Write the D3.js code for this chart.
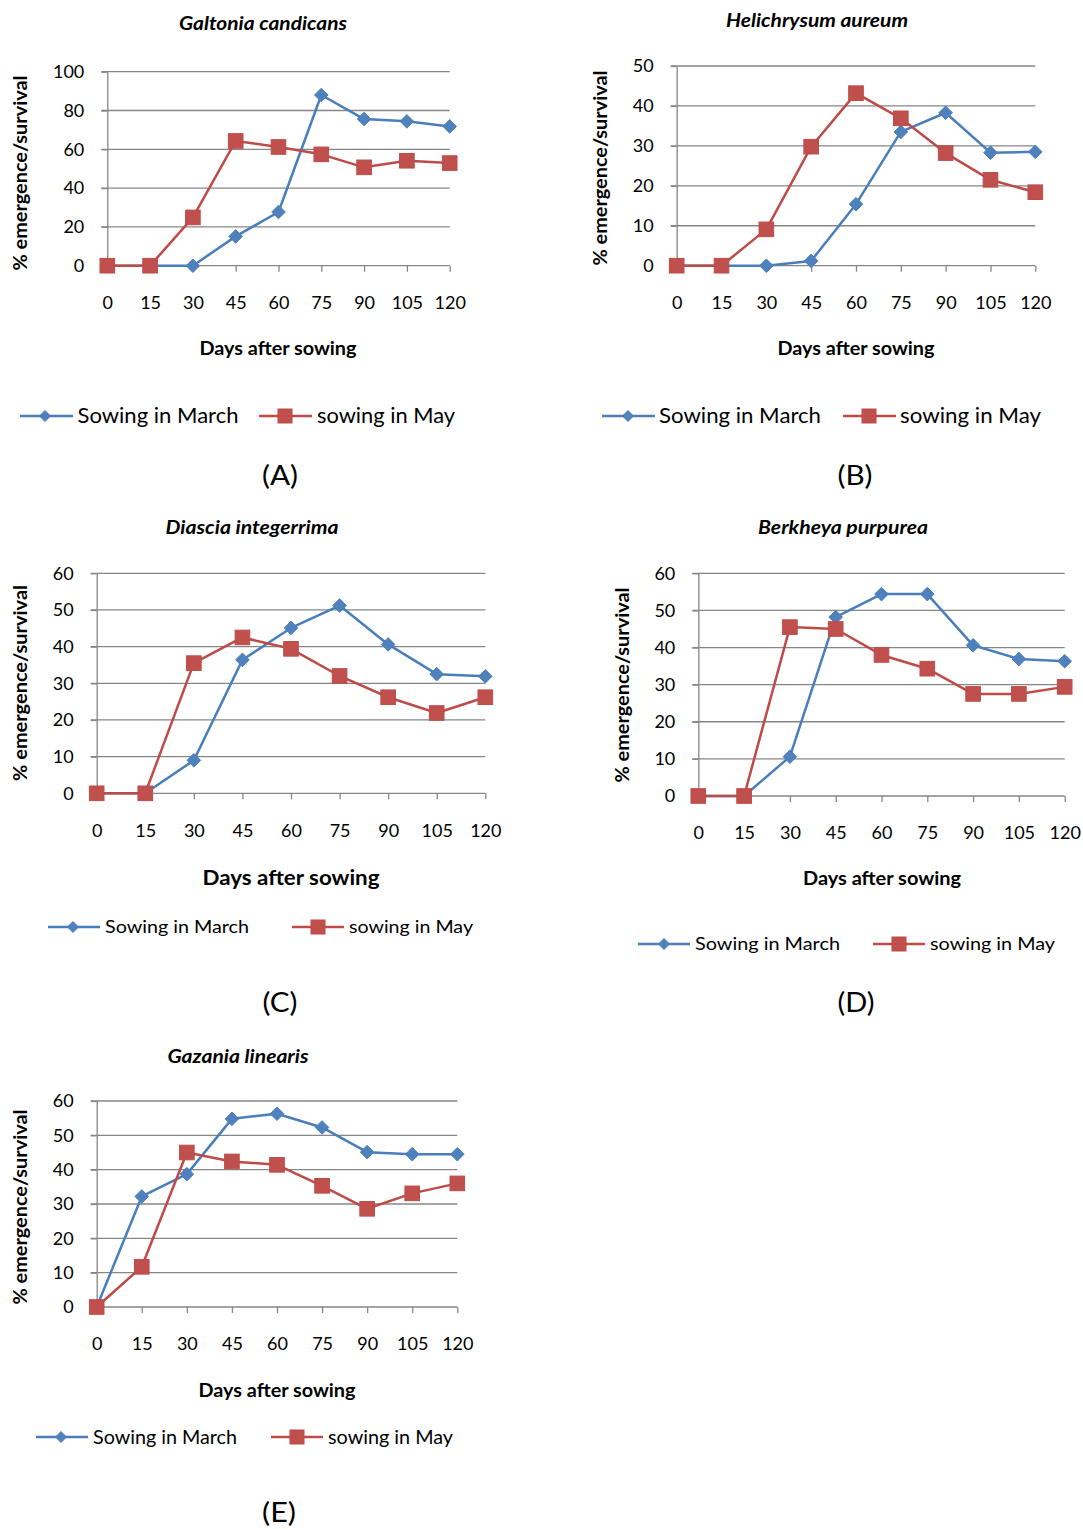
<!DOCTYPE html>
<html><head><meta charset="utf-8">
<script src="https://cdn.jsdelivr.net/npm/d3@7"></script>
<style>body{margin:0;background:#fff}svg{display:block}text{font-family:Lato,"Open Sans",sans-serif;fill:#000}</style>
</head><body>
<svg id="c" width="1083" height="1529"></svg>
<script>
const days = [0,15,30,45,60,75,90,105,120];
const seriesNames = ["Sowing in March","sowing in May"];
const panelTitles = ["Galtonia candicans","Helichrysum aureum","Diascia integerrima","Berkheya purpurea","Gazania linearis"];
const panelLabels = ["(A)","(B)","(C)","(D)","(E)"];
const galtoniaMarch = [0,0,0,15.1,27.7,88,75.6,74.4,71.8];
const galtoniaMay   = [0,0,24.9,64.3,61.2,57.4,50.7,54.1,52.9];
const helichrysumMarch = [0,0,0,1.2,15.4,33.5,38.3,28.3,28.5];
const helichrysumMay   = [0,0,9.1,29.8,43.2,36.9,28.2,21.5,18.4];
const diasciaMarch = [0,0,9.0,36.4,45.1,51.2,40.6,32.5,31.9];
const diasciaMay   = [0,0,35.5,42.5,39.4,32.0,26.2,21.9,26.2];
const berkheyaMarch = [0,0,10.6,48.2,54.4,54.4,40.6,36.9,36.3];
const berkheyaMay   = [0,0,45.5,45.0,38.0,34.3,27.5,27.5,29.4];
const gazaniaMarch = [0,32.2,38.7,54.8,56.3,52.3,45.1,44.5,44.5];
const gazaniaMay   = [0,11.7,45.0,42.4,41.4,35.3,28.6,33.1,36.0];
const ticks100 = [0,20,40,60,80,100];
const ticks50 = [0,10,20,30,40,50];
const ticks60 = [0,10,20,30,40,50,60];

const yAxisTitle = "% emergence/survival";
const xAxisTitle = "Days after sowing";

const BLUE = "#4a7ebb", BLUEM = "#4f81bd", RED = "#be4b48", REDM = "#c0504d", GRID = "#868686";

// layout per panel (positions and text widths only)
const layouts = [
  {x0:107.3,x1:449.7,yt:71.7,yb:265.7,titleX:263,titleY:23,titleLen:168,ytX:20,ytY:173,ytLen:195,xtX:278,xtY:348,xtLen:157,xtSize:18,
   legY:416,legSize:21,legLen:[161,138],l1:[20,73,45,77.5],l2:[259,312,285,317],labX:280,labY:476,labLen:36},
  {x0:676.7,x1:1035.3,yt:66,yb:265.7,titleX:817,titleY:20,titleLen:182,ytX:600,ytY:168,ytLen:195,xtX:856,xtY:348,xtLen:157,xtSize:18,
   legY:416,legSize:21,legLen:[162,141],l1:[602,655,628,659],l2:[843,896,869,900],labX:855,labY:476,labLen:35},
  {x0:96.7,x1:485.3,yt:573.3,yb:793.3,titleX:252,titleY:527,titleLen:173,ytX:20,ytY:683,ytLen:196,xtX:291,xtY:878,xtLen:177,xtSize:20,
   legY:927,legSize:18,legLen:[144,124],l1:[48,100,73,105],l2:[292,344,318,349],labX:280,labY:1003,labLen:35},
  {x0:698.3,x1:1064.7,yt:573.3,yb:796,titleX:843,titleY:527,titleLen:170,ytX:622,ytY:685,ytLen:195,xtX:882,xtY:878,xtLen:158,xtSize:18,
   legY:944,legSize:18,legLen:[145,125],l1:[638,690,664,695],l2:[873,925,899,930],labX:856,labY:1003,labLen:37},
  {x0:96.7,x1:457.3,yt:1101,yb:1307,titleX:238,titleY:1056,titleLen:141,ytX:20,ytY:1207,ytLen:195,xtX:277,xtY:1390,xtLen:157,xtSize:18,
   legY:1437,legSize:19,legLen:[144,125],l1:[36,88,61,93],l2:[271,323,297,328],labX:279,labY:1513,labLen:34}
];
const panelData = [
  [galtoniaMarch, galtoniaMay, ticks100],
  [helichrysumMarch, helichrysumMay, ticks50],
  [diasciaMarch, diasciaMay, ticks60],
  [berkheyaMarch, berkheyaMay, ticks60],
  [gazaniaMarch, gazaniaMay, ticks60]
];

const svg = d3.select("#c");

function drawMarker(g, kind, x, y, s) {
  if (kind === 0) {
    g.append("path").attr("d", `M${x},${y-s}L${x+s},${y}L${x},${y+s}L${x-s},${y}Z`)
      .attr("fill", BLUEM).attr("stroke", BLUE).attr("stroke-width", 1);
  } else {
    g.append("rect").attr("x", x-s).attr("y", y-s).attr("width", 2*s).attr("height", 2*s)
      .attr("fill", REDM).attr("stroke", RED).attr("stroke-width", 1);
  }
}
function fit(t, len) { if (len) t.attr("textLength", len).attr("lengthAdjust", "spacingAndGlyphs"); return t; }

panelData.forEach((pd, i) => {
  const L = layouts[i];
  const [march, may, yTicks] = pd;
  const g = svg.append("g");
  const x = d3.scalePoint().domain(days).range([L.x0, L.x1]);
  const y = d3.scaleLinear().domain([0, d3.max(yTicks)]).range([L.yb, L.yt]);

  // gridlines
  g.append("g").selectAll("line").data(yTicks.filter(t => t > 0)).join("line")
    .attr("x1", L.x0 - 6).attr("x2", L.x1).attr("y1", d => y(d)).attr("y2", d => y(d))
    .attr("stroke", GRID).attr("stroke-width", 1.3);

  // y axis
  const ya = g.append("g").attr("transform", `translate(${L.x0},0)`)
    .call(d3.axisLeft(y).tickValues(yTicks).tickSize(6).tickSizeOuter(0).tickPadding(17));
  ya.select(".domain").attr("stroke", GRID).attr("stroke-width", 1.3);
  ya.selectAll(".tick line").attr("stroke", GRID).attr("stroke-width", 1.3);
  ya.selectAll(".tick text").attr("font-size", 18).attr("font-family", "Lato").attr("fill", "#000");

  // x axis
  const xa = g.append("g").attr("transform", `translate(0,${L.yb})`)
    .call(d3.axisBottom(x).tickSize(6).tickSizeOuter(0));
  xa.select(".domain").attr("stroke", GRID).attr("stroke-width", 1.3).attr("d", `M${L.x0},0H${L.x1}`);
  xa.selectAll(".tick line").attr("stroke", GRID).attr("stroke-width", 1.3);
  xa.selectAll(".tick text").attr("font-size", 18).attr("font-family", "Lato").attr("fill", "#000")
    .attr("y", 37).attr("dy", "0.35em");

  // lines
  const line = d3.line().x((d, j) => x(days[j])).y(d => y(d));
  [march, may].forEach((vals, k) => {
    g.append("path").datum(vals).attr("d", line).attr("fill", "none")
      .attr("stroke", k === 0 ? BLUE : RED).attr("stroke-width", 2.5).attr("stroke-linejoin", "round");
    vals.forEach((v, j) => drawMarker(g, k, x(days[j]), y(v), k === 0 ? 6.8 : 7.3));
  });

  // title
  fit(g.append("text").attr("x", L.titleX).attr("y", L.titleY).attr("dy", "0.35em").attr("text-anchor", "middle")
    .attr("font-size", 19).attr("font-weight", "bold").attr("font-style", "italic").text(panelTitles[i]), L.titleLen);

  // y axis title
  fit(g.append("text").attr("transform", `translate(${L.ytX},${L.ytY}) rotate(-90)`).attr("dy", "0.35em")
    .attr("text-anchor", "middle").attr("font-size", 19).attr("font-weight", "bold").text(yAxisTitle), L.ytLen);

  // x axis title
  fit(g.append("text").attr("x", L.xtX).attr("y", L.xtY).attr("dy", "0.35em").attr("text-anchor", "middle")
    .attr("font-size", L.xtSize + 1).attr("font-weight", "bold").text(xAxisTitle), L.xtLen);

  // legend
  [L.l1, L.l2].forEach((p, k) => {
    g.append("line").attr("x1", p[0]).attr("x2", p[1]).attr("y1", L.legY).attr("y2", L.legY)
      .attr("stroke", k === 0 ? BLUE : RED).attr("stroke-width", 2.5);
    drawMarker(g, k, p[2], L.legY, k === 0 ? 5.5 : 7);
    fit(g.append("text").attr("x", p[3]).attr("y", L.legY).attr("dy", "0.35em")
      .attr("font-size", L.legSize).text(seriesNames[k]), L.legLen[k]);
  });

  // panel label
  fit(g.append("text").attr("x", L.labX).attr("y", L.labY).attr("dy", "0.35em").attr("text-anchor", "middle")
    .attr("font-size", 26).text(panelLabels[i]), L.labLen);
});
</script>
</body></html>
